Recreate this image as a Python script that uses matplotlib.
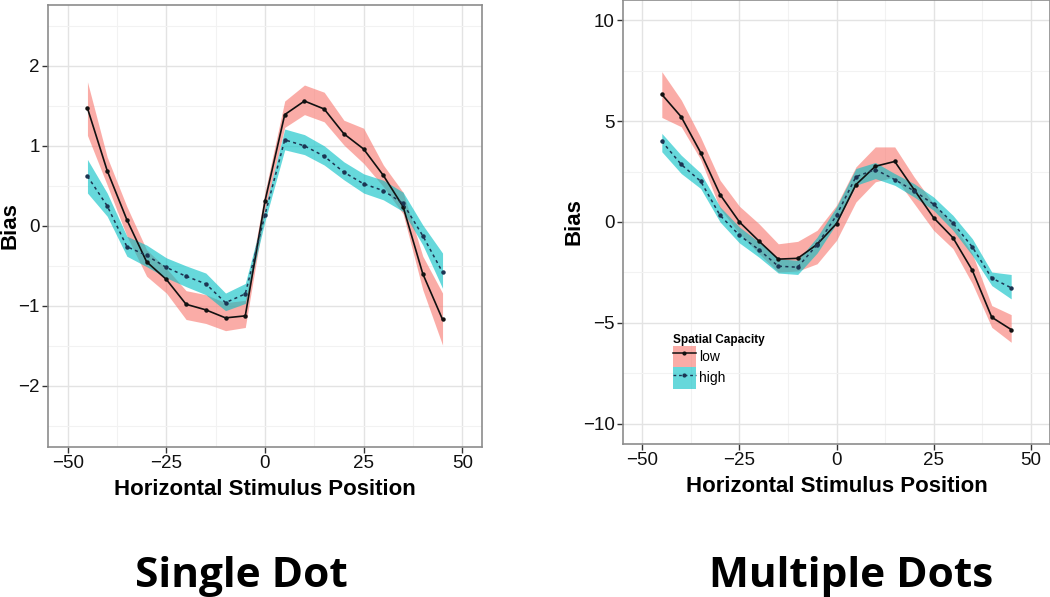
import numpy as np
import matplotlib
matplotlib.use("Agg")
import matplotlib.pyplot as plt
from matplotlib.patches import Patch
from matplotlib.lines import Line2D

plt.rcParams["font.family"] = ["Liberation Sans", "DejaVu Sans"]

# stimulus positions (shared by both panels)
pos = [-45, -40, -35, -30, -25, -20, -15, -10, -5, 0, 5, 10, 15, 20, 25, 30, 35, 40, 45]

# single dot
single_low = [1.47, 0.69, 0.075, -0.45, -0.67, -0.98, -1.05, -1.15, -1.125, 0.31,
              1.39, 1.56, 1.46, 1.15, 0.96, 0.63, 0.24, -0.60, -1.17]
single_low_hi = [1.80, 0.86, 0.24, -0.30, -0.53, -0.81, -0.86, -0.96, -0.93, 0.42,
                 1.56, 1.76, 1.67, 1.32, 1.22, 0.76, 0.42, -0.38, -0.84]
single_low_lo = [1.13, 0.51, -0.13, -0.63, -0.84, -1.17, -1.22, -1.31, -1.27, 0.20,
                 1.23, 1.39, 1.30, 1.01, 0.78, 0.49, 0.15, -0.80, -1.49]
single_high = [0.62, 0.25, -0.26, -0.37, -0.52, -0.63, -0.725, -0.96, -0.85, 0.14,
               1.075, 1.00, 0.87, 0.67, 0.525, 0.44, 0.28, -0.125, -0.58]
single_high_hi = [0.83, 0.41, -0.13, -0.24, -0.40, -0.50, -0.59, -0.84, -0.72, 0.22,
                  1.21, 1.14, 1.00, 0.80, 0.65, 0.57, 0.42, 0.01, -0.34]
single_high_lo = [0.41, 0.12, -0.38, -0.51, -0.65, -0.76, -0.86, -1.06, -0.97, 0.06,
                  0.95, 0.89, 0.76, 0.575, 0.41, 0.325, 0.18, -0.24, -0.78]

# multiple dots
multi_low = [6.32, 5.21, 3.44, 1.36, 0.0, -0.94, -1.84, -1.80, -1.11, -0.08,
             1.85, 2.76, 3.00, 1.60, 0.215, -0.78, -2.40, -4.72, -5.33]
multi_low_hi = [7.45, 6.05, 4.20, 2.07, 0.78, -0.08, -1.08, -0.96, -0.41, 0.83,
                2.73, 3.72, 3.72, 2.23, 0.91, -0.08, -1.57, -4.14, -4.59]
multi_low_lo = [5.18, 4.72, 3.10, 0.66, -0.58, -1.57, -2.48, -2.43, -2.07, -0.91,
                0.99, 1.99, 2.23, 0.91, -0.41, -1.32, -3.06, -5.22, -5.96]
multi_high = [4.00, 2.85, 2.02, 0.33, -0.66, -1.37, -2.19, -2.24, -1.13, 0.33,
              2.24, 2.60, 2.10, 1.54, 0.88, -0.05, -1.24, -2.78, -3.26]
multi_high_hi = [4.39, 3.31, 2.43, 0.75, -0.25, -0.99, -1.82, -1.90, -0.75, 0.75,
                 2.65, 2.95, 2.40, 1.90, 1.24, 0.33, -0.83, -2.48, -2.60]
multi_high_lo = [3.48, 2.40, 1.66, 0.0, -1.04, -1.74, -2.53, -2.60, -1.54, -0.08,
                 1.82, 2.15, 1.82, 1.24, 0.58, -0.41, -1.66, -3.15, -3.81]

RED = "#F8766D"
TEAL = "#00BFC4"
LOWLINE = "#111111"
HIGHLINE = "#1c3452"


def draw_panel(ax, low, low_hi, low_lo, high, high_hi, high_lo, ylim, yticks, yminor):
    ax.fill_between(pos, low_lo, low_hi, color=RED, alpha=0.6, lw=0, zorder=2)
    ax.fill_between(pos, high_lo, high_hi, color=TEAL, alpha=0.6, lw=0, zorder=2)
    ax.plot(pos, low, color=LOWLINE, lw=1.2, marker="o", ms=2.2, zorder=3)
    ax.plot(pos, high, color=HIGHLINE, lw=1.1, ls=(0, (2, 2.2)), marker="o", ms=2.2, zorder=3)

    ax.set_xlim(-55, 55)
    ax.set_ylim(*ylim)
    ax.set_xticks([-50, -25, 0, 25, 50])
    ax.set_xticklabels(["\u221250", "\u221225", "0", "25", "50"])
    ax.set_xticks([-37.5, -12.5, 12.5, 37.5], minor=True)
    ax.set_yticks(yticks)
    ax.set_yticklabels([str(t).replace("-", "\u2212") for t in yticks])
    ax.set_yticks(yminor, minor=True)
    ax.grid(True, which="major", color="#e3e3e3", lw=1.0, zorder=0)
    ax.grid(True, which="minor", color="#f2f2f2", lw=0.8, zorder=0)
    ax.set_axisbelow(True)
    for s in ax.spines.values():
        s.set_color("#8c8c8c")
        s.set_linewidth(1.2)
    ax.tick_params(which="major", length=4, width=1, color="#333333",
                   labelsize=13.5, labelcolor="#111111", pad=2)
    ax.tick_params(which="minor", length=0)
    ax.set_xlabel("Horizontal Stimulus Position", fontsize=16, fontweight="bold", labelpad=5)
    ax.set_ylabel("Bias", fontsize=16, fontweight="bold")


fig = plt.figure(figsize=(10.5, 5.97), dpi=100)

ax1 = fig.add_axes([48 / 1050, (597 - 446.7) / 597, 434 / 1050, (446.7 - 5) / 597])
draw_panel(ax1, single_low, single_low_hi, single_low_lo,
           single_high, single_high_hi, single_high_lo,
           (-2.76, 2.76), [-2, -1, 0, 1, 2], [-2.5, -1.5, -0.5, 0.5, 1.5, 2.5])
ax1.yaxis.set_label_coords(-0.064, 0.5)

ax2 = fig.add_axes([623 / 1050, (597 - 444) / 597, 427 / 1050, 444 / 597])
draw_panel(ax2, multi_low, multi_low_hi, multi_low_lo,
           multi_high, multi_high_hi, multi_high_lo,
           (-11, 11), [-10, -5, 0, 5, 10], [-7.5, -2.5, 2.5, 7.5])
ax2.yaxis.set_label_coords(-0.091, 0.5)

h_low = (Patch(facecolor=RED, alpha=0.6, lw=0),
         Line2D([], [], color=LOWLINE, lw=1.1, marker="o", ms=2))
h_high = (Patch(facecolor=TEAL, alpha=0.6, lw=0),
          Line2D([], [], color=HIGHLINE, lw=1.0, ls=(0, (2, 2)), marker="o", ms=2))
leg = ax2.legend([h_low, h_high], ["low", "high"], title="Spatial Capacity",
                 loc="upper left", bbox_to_anchor=(0.095, 0.27), frameon=False,
                 fontsize=10, title_fontsize=8.5, handlelength=1.6, handleheight=2.0,
                 handletextpad=0.25, labelspacing=0.0, borderpad=0.2)
leg.get_title().set_fontweight("bold")
leg._legend_box.align = "left"

fig.text(241 / 1050, 1 - 587 / 597, "Single Dot", ha="center", va="baseline",
         fontsize=30.5, fontweight="bold", family=["Open Sans", "DejaVu Sans"])
fig.text(851 / 1050, 1 - 587 / 597, "Multiple Dots", ha="center", va="baseline",
         fontsize=30.5, fontweight="bold", family=["Open Sans", "DejaVu Sans"])

fig.savefig("out.png", dpi=100)
